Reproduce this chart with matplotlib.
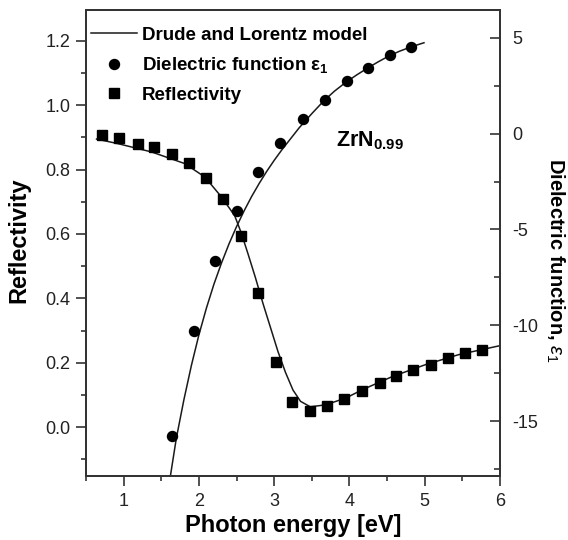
import matplotlib
matplotlib.use("Agg")
import matplotlib.pyplot as plt
from matplotlib.lines import Line2D
from matplotlib.ticker import MultipleLocator

plt.rcParams['font.family'] = ['Liberation Sans', 'DejaVu Sans']
plt.rcParams['mathtext.fontset'] = 'custom'
plt.rcParams['mathtext.rm'] = 'Liberation Sans'
plt.rcParams['mathtext.bf'] = 'Liberation Sans:bold'
plt.rcParams['mathtext.it'] = 'Liberation Sans:italic'
plt.rcParams['axes.unicode_minus'] = False

# Measured reflectivity (left axis)
refl_energy = [0.71, 0.94, 1.19, 1.41, 1.64, 1.87, 2.10, 2.32, 2.56, 2.79, 3.02,
               3.24, 3.48, 3.70, 3.93, 4.17, 4.40, 4.62, 4.84, 5.08, 5.31, 5.53, 5.76]
refl_values = [0.907, 0.897, 0.881, 0.869, 0.847, 0.822, 0.774, 0.708, 0.593, 0.416, 0.203,
               0.077, 0.051, 0.067, 0.087, 0.113, 0.138, 0.160, 0.176, 0.192, 0.215, 0.230, 0.241]

# Measured dielectric function eps1 (right axis)
eps_energy = [1.64, 1.93, 2.22, 2.51, 2.79, 3.08, 3.38, 3.67, 3.97, 4.24, 4.54, 4.82]
eps_values = [-15.77, -10.32, -6.67, -4.02, -2.02, -0.49, 0.77, 1.78, 2.73, 3.41, 4.13, 4.51]

# Drude and Lorentz model curves
model_r_energy = [0.64, 0.92, 1.37, 1.81, 2.08, 2.30, 2.475, 2.56, 2.65, 2.75, 2.85, 2.95,
                  3.05, 3.15, 3.25, 3.35, 3.48, 3.68, 3.95, 4.17, 4.57, 5.01, 5.45, 5.96, 6.0]
model_r_values = [0.895, 0.881, 0.855, 0.819, 0.777, 0.715, 0.657, 0.605, 0.54, 0.465, 0.385, 0.31,
                  0.235, 0.17, 0.115, 0.08, 0.063, 0.069, 0.09, 0.116, 0.157, 0.194, 0.225, 0.251, 0.253]

model_e_energy = [1.62, 1.70, 1.80, 1.90, 2.00, 2.10, 2.20, 2.30, 2.40, 2.50, 2.60, 2.70,
                  2.80, 2.90, 3.00, 3.10, 3.20, 3.33, 3.50, 3.66, 3.80, 3.95, 4.10, 4.23,
                  4.38, 4.52, 4.66, 4.83, 4.99]
model_e_values = [-17.9, -15.9, -13.9, -12.1, -10.5, -9.1, -7.85, -6.75, -5.75, -4.85, -4.03, -3.28,
                  -2.6, -1.97, -1.39, -0.85, -0.35, 0.30, 1.05, 1.72, 2.22, 2.68, 3.08, 3.40,
                  3.75, 4.05, 4.30, 4.55, 4.75]

fig = plt.figure(figsize=(5.68, 5.40), dpi=100)
ax = fig.add_axes([86 / 568, 64 / 540, 414 / 568, 466 / 540])
ax2 = ax.twinx()

line_kw = dict(color='#1a1a1a', lw=1.1)
ax.plot(model_r_energy, model_r_values, **line_kw)
ax.plot(refl_energy, refl_values, ls='none', marker='s', ms=7.2, color='black')
ax2.plot(model_e_energy, model_e_values, **line_kw)
ax2.plot(eps_energy, eps_values, ls='none', marker='o', ms=7.2, color='black')

ax.set_xlim(0.5, 6.0)
ax.set_ylim(-0.152, 1.296)
ax2.set_ylim(-17.87, 6.46)

ax.xaxis.set_major_locator(MultipleLocator(1))
ax.xaxis.set_minor_locator(MultipleLocator(0.5))
ax.yaxis.set_major_locator(MultipleLocator(0.2))
ax.yaxis.set_minor_locator(MultipleLocator(0.1))
ax2.yaxis.set_major_locator(MultipleLocator(5))
ax2.yaxis.set_minor_locator(MultipleLocator(2.5))

tick_color = '#222222'
ax.tick_params(axis='both', which='major', direction='out', length=7, width=1.1,
               labelsize=13, pad=4, colors=tick_color)
ax.tick_params(axis='both', which='minor', direction='out', length=3.6, width=1.1,
               colors=tick_color)
ax.tick_params(axis='x', which='major', pad=5)
ax.tick_params(axis='y', which='both', right=False)
ax.tick_params(axis='x', which='both', top=False)
ax2.tick_params(axis='y', which='major', direction='in', length=7, width=1.1,
                labelsize=13, pad=9, colors=tick_color)
ax2.tick_params(axis='y', which='minor', direction='in', length=4, width=1.1,
                colors=tick_color)

for a in (ax, ax2):
    for s in a.spines.values():
        s.set_linewidth(1.3)
        s.set_color('#333333')

ax.set_xticks([1, 2, 3, 4, 5, 6])
ax.set_xticklabels(['1', '2', '3', '4', '5', '6'])

ax.set_xlabel('Photon energy [eV]', fontsize=17, fontweight='bold', labelpad=3)
ax.set_ylabel('Reflectivity', fontsize=17, fontweight='bold',
              ha='center', va='center', rotation_mode='default')
ax.yaxis.set_label_coords((20 - 87) / 413, (476 - 240) / 466)
ax2.set_ylabel(r'Dielectric function, $\varepsilon_1$', fontsize=14.5, fontweight='bold',
               rotation=270, ha='center', va='center', rotation_mode='default')
ax2.yaxis.set_label_coords((555 - 87) / 413, (476 - 260) / 466)

ax.text(3.82, 0.89, r'$\mathbf{ZrN_{0.99}}$', fontsize=15.5, ha='left', va='center')

handles = [
    Line2D([], [], color='#1a1a1a', lw=1.1),
    Line2D([], [], ls='none', marker='o', ms=7.2, color='black'),
    Line2D([], [], ls='none', marker='s', ms=7.2, color='black'),
]
labels = ['Drude and Lorentz model', r'Dielectric function $\mathbf{\varepsilon_1}$', 'Reflectivity']
leg = ax.legend(handles, labels, loc='upper left', bbox_to_anchor=(5 / 414, 1 - 16.5 / 466),
                frameon=False, prop={'weight': 'bold', 'size': 13.5},
                handlelength=2.45, handletextpad=0.28, labelspacing=0.62,
                borderaxespad=0.0, borderpad=0.0)

fig.savefig('out.png', dpi=100)
